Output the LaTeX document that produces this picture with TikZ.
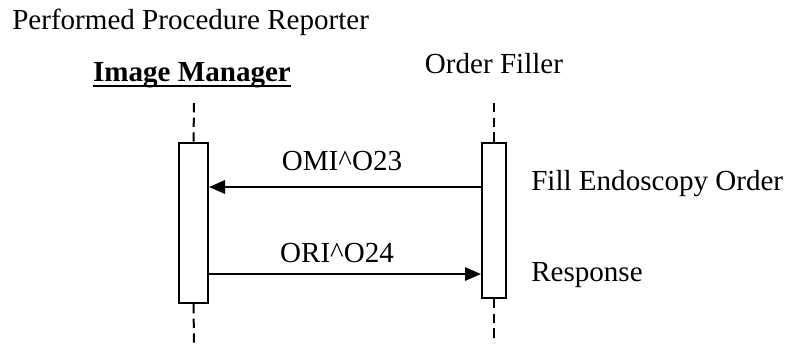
\documentclass[tikz,border=0pt]{standalone}
\usepackage{fontspec}
\setmainfont{Liberation Serif}
\usetikzlibrary{arrows.meta}

\begin{document}
\begin{tikzpicture}[x=0.75pt,y=-0.75pt,
	font=\fontsize{21.8}{26}\selectfont,
	txt/.style={inner sep=0pt},
	act box/.style={rectangle,draw,line width=1.5pt,fill=white,inner sep=0pt},
	life line/.style={line width=1.5pt,dash pattern=on 7pt off 4pt},
	msg/.style={line width=1.5pt,-{Triangle[length=12pt,width=10pt]}}
]

	\useasboundingbox (0,0) rectangle (791,343);

	% actors
	\node[txt,anchor=base west] (ppr) at (12,29) {Performed Procedure Reporter};
	\node[txt,anchor=base,font=\fontsize{21.8}{26}\selectfont\bfseries] (im) at (192,81) {Image Manager};
	\draw[line width=1.5pt] ([yshift=-3.8pt]im.base west) -- ([yshift=-3.8pt]im.base east);
	\node[txt,anchor=base] (of) at (494,73) {Order Filler};

	% activation boxes
	\node[act box,minimum width=21.75pt,minimum height=120pt] (imbox) at (193.5,223) {};
	\node[act box,minimum width=18pt,minimum height=116.25pt] (ofbox) at (494,220.5) {};

	% life lines
	\coordinate (imtop) at (194,103);
	\coordinate (imbot) at (194,343);
	\coordinate (oftop) at (494,103);
	\coordinate (ofbot) at (494,343);
	\foreach \b/\t/\e in {imbox/imtop/imbot,ofbox/oftop/ofbot} {
		\draw[life line] (\t) -- (\b.north);
		\draw[life line] (\b.south) -- (\e);
	}

	% messages
	\draw[msg] (ofbox.west |- 0,187) -- (imbox.east |- 0,187);
	\node[txt,anchor=base] (omi) at (342,170) {OMI\textasciicircum O23};
	\draw[msg] (imbox.east |- 0,274) -- (ofbox.west |- 0,274);
	\node[txt,anchor=base] (ori) at (337,262) {ORI\textasciicircum O24};

	\node[txt,anchor=base west] (fill) at (531,190) {Fill Endoscopy Order};
	\node[txt,anchor=base west] (resp) at (531,281) {Response};
\end{tikzpicture}
\end{document}
